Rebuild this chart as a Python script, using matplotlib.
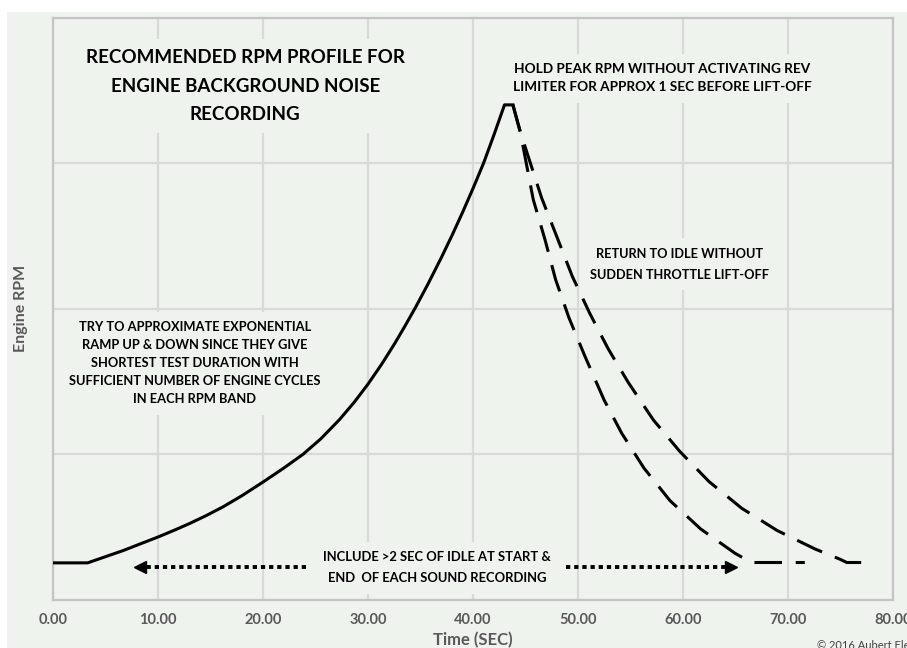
import matplotlib.pyplot as plt
from matplotlib.patches import Rectangle

# ramp up (solid) - time in sec, engine rpm
rise_t = [0, 3.3, 5, 6.7, 8.3, 10, 11.5, 13, 14.6, 16.2, 18, 20, 22, 23.8, 25.5, 27.3, 28.7,
          30, 31.3, 32.5, 33.5, 34.5, 35.7, 37, 38, 39, 40, 41, 42, 43.0, 43.8]
rise_rpm = [510, 510, 595, 680, 770, 865, 955, 1050, 1160, 1280, 1433, 1620, 1814, 2000, 2213, 2480, 2718,
            2965, 3238, 3512, 3757, 4012, 4336, 4707, 5007, 5322, 5652, 5997, 6390, 6800, 6800]

# fast return to idle (dashed)
fast_t = [43.8, 44.5, 45.74, 46.86, 47.87, 49.14, 50.67, 52.48, 54.16, 56.29, 58.76, 61.68, 64.95, 66.5, 71.6]
fast_rpm = [6800, 6430, 5498, 4948, 4399, 3876, 3344, 2749, 2291, 1810, 1365, 976, 642, 515, 515]

# slow return to idle (dashed)
slow_t = [43.8, 44.5, 46.54, 47.97, 49.46, 51.14, 52.89, 54.79, 57.17, 59.71, 62.48, 65.59, 68.98, 72.57, 74.95, 75.6, 77.7]
slow_rpm = [6800, 6430, 5521, 4994, 4444, 3931, 3446, 2987, 2474, 2038, 1626, 1260, 953, 701, 560, 515, 515]

x_ticks = [0, 10, 20, 30, 40, 50, 60, 70, 80]
y_grid = [0, 2000, 4000, 6000, 8000]

BG = '#eff3ee'
GRID = '#d9d9d9'
FONT = ['Lato', 'DejaVu Sans']
plt.rcParams['font.family'] = FONT

fig = plt.figure(figsize=(9.07, 6.48), dpi=100, facecolor='white')
fig.patches.append(Rectangle((7 / 907, 0), 1, 1 - 12 / 648, transform=fig.transFigure,
                             facecolor=BG, edgecolor='none', zorder=-10))
ax = fig.add_axes([53 / 907, 1 - 600 / 648, 840 / 907, 582.5 / 648])
ax.set_facecolor(BG)
ax.set_xlim(0, 80)
ax.set_ylim(0, 8000)

ax.set_xticks(x_ticks)
ax.set_xticklabels(['%.2f' % v for v in x_ticks])
ax.set_yticks(y_grid)
ax.set_yticklabels([])
ax.tick_params(length=0, pad=9)
for lab in ax.get_xticklabels():
    lab.set_fontsize(10.5)
    lab.set_fontweight('bold')
    lab.set_color('#595959')
ax.grid(True, color=GRID, lw=1.6, zorder=0)
ax.set_axisbelow(True)
for s in ax.spines.values():
    s.set_color('#c4c4c4')
    s.set_linewidth(1.6)

ax.set_xlabel('Time (SEC)', fontsize=12, fontweight='bold', color='#595959', labelpad=4)
ax.set_ylabel('Engine RPM', fontsize=11.5, fontweight='bold', color='#595959', labelpad=9)

ax.plot(rise_t, rise_rpm, color='black', lw=2.2, zorder=5, solid_joinstyle='round')
ax.plot(fast_t, fast_rpm, color='black', lw=2.2, linestyle=(0, (9, 4.5)), zorder=5)
ax.plot(slow_t, slow_rpm, color='black', lw=2.2, linestyle=(0, (9, 4.5)), zorder=5)

box = dict(facecolor=BG, edgecolor='none', pad=7)
ax.text(18.3, 7055, 'RECOMMENDED RPM PROFILE FOR\nENGINE BACKGROUND NOISE\nRECORDING',
        ha='center', va='center', multialignment='center', fontsize=13.5, fontweight='bold',
        linespacing=1.83, bbox=box, zorder=3)
ax.text(58.0, 7165, 'HOLD PEAK RPM WITHOUT ACTIVATING REV\nLIMITER FOR APPROX 1 SEC BEFORE LIFT-OFF',
        ha='center', va='center', multialignment='center', fontsize=9.8, fontweight='bold',
        linespacing=1.62, bbox=box, zorder=3)
ax.text(59.7, 4610, 'RETURN TO IDLE WITHOUT\nSUDDEN THROTTLE LIFT-OFF',
        ha='center', va='center', multialignment='center', fontsize=9.2, fontweight='bold',
        linespacing=1.85, bbox=box, zorder=3)
ax.text(13.5, 3250, 'TRY TO APPROXIMATE EXPONENTIAL\nRAMP UP & DOWN SINCE THEY GIVE\n'
        'SHORTEST TEST DURATION WITH\nSUFFICIENT NUMBER OF ENGINE CYCLES\nIN EACH RPM BAND',
        ha='center', va='center', multialignment='center', fontsize=9.3, fontweight='bold',
        linespacing=1.6, bbox=box, zorder=3)
ax.text(36.6, 445, 'INCLUDE >2 SEC OF IDLE AT START &\nEND  OF EACH SOUND RECORDING',
        ha='center', va='center', multialignment='center', fontsize=9.4, fontweight='bold',
        linespacing=1.85, bbox=box, zorder=3)

# dotted arrows
ax.plot([24.1, 8.9], [454, 454], color='black', lw=2.8, linestyle=(0, (1.1, 1.0)),
        dash_capstyle='butt', zorder=5)
ax.plot([8.3], [454], marker='<', ms=8, color='black', zorder=5)
ax.plot([48.9, 64.0], [454, 454], color='black', lw=2.8, linestyle=(0, (1.1, 1.0)),
        dash_capstyle='butt', zorder=5)
ax.plot([64.6], [454], marker='>', ms=8, color='black', zorder=5)

fig.text(817 / 907, 0.004, '\u00a9 2016 Aubert Electronics Pty Ltd', fontsize=8,
         color='#404040', ha='left', va='center')

fig.savefig('out.png', dpi=100, facecolor='white')
